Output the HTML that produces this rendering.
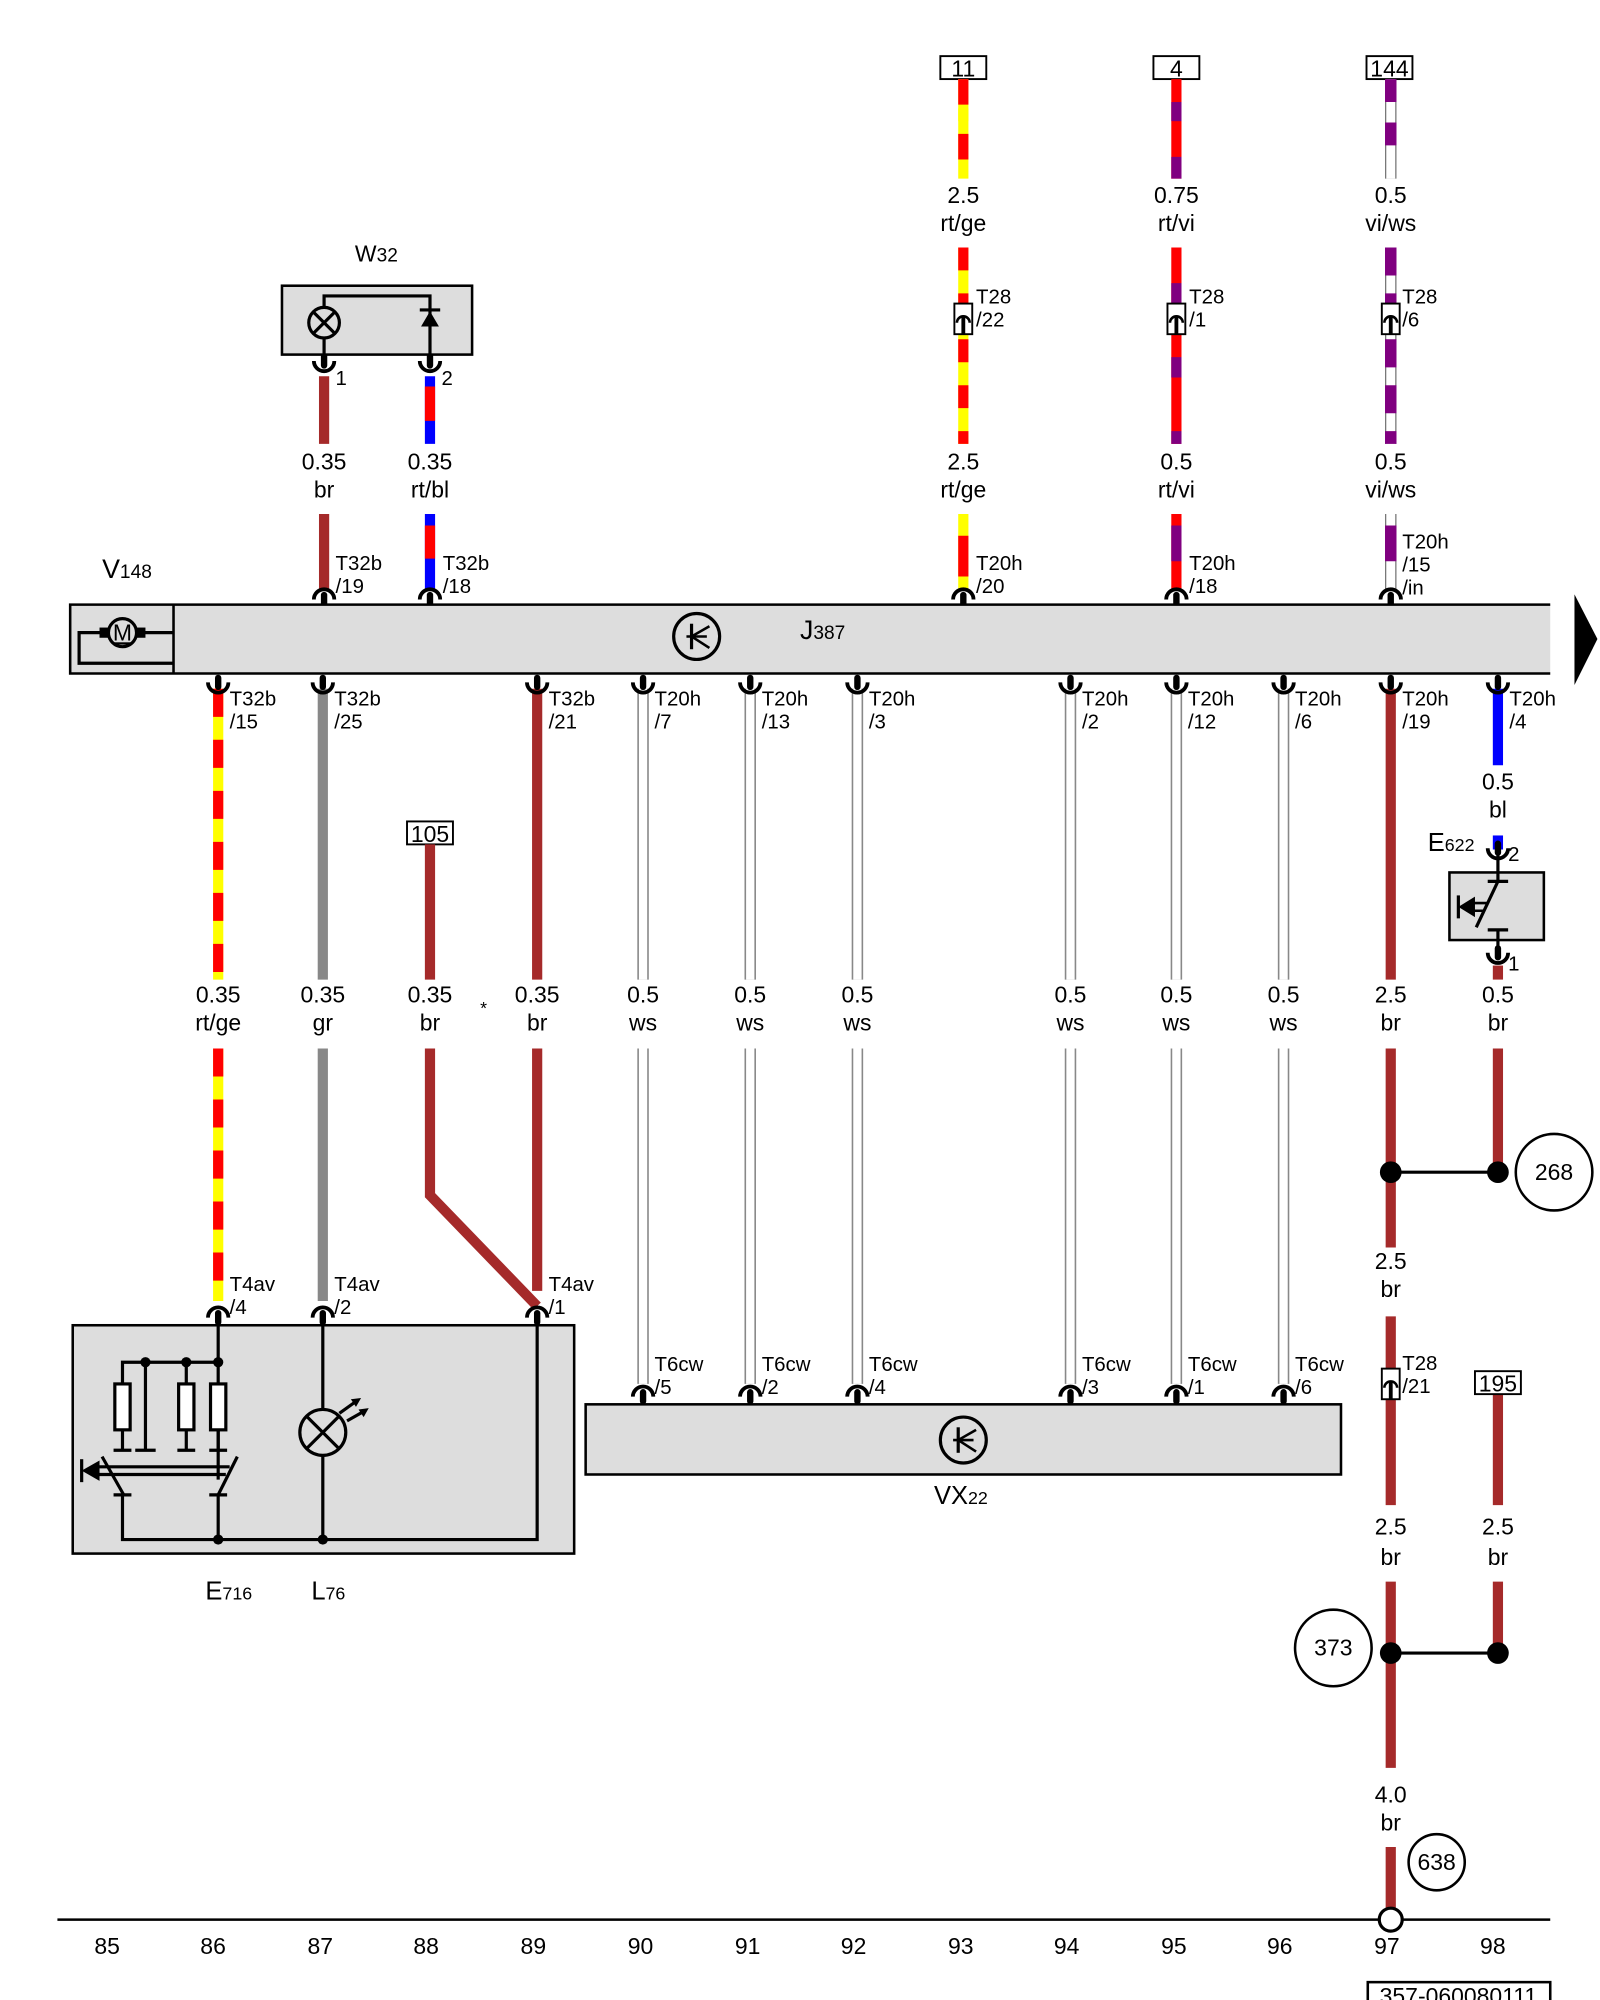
<!DOCTYPE html>
<html><head><meta charset="utf-8"><style>
html,body{margin:0;padding:0;background:#fff;}
svg{display:block;}
text{font-family:"Liberation Sans",sans-serif;fill:#000;}
.l{font-size:18px;text-anchor:middle;}
.c{font-size:16px;}
.n{font-size:18px;text-anchor:middle;}
</style></head><body>
<svg width="1600" height="2000" viewBox="0 0 1254 1568" preserveAspectRatio="none" xmlns="http://www.w3.org/2000/svg">
<defs>
<g id="cn"><path d="M-8,5 A8,8 0 0 1 8,5" fill="none" stroke="#000" stroke-width="3"/><rect x="-2.5" y="-1" width="5" height="12" rx="2.5" fill="#000"/></g>
<g id="cu"><path d="M-8,-5 A8,8 0 0 0 8,-5" fill="none" stroke="#000" stroke-width="3"/><rect x="-2.5" y="-11" width="5" height="12" rx="2.5" fill="#000"/></g>
<g id="t28"><rect x="-7" y="-12" width="14" height="24" fill="#fff" stroke="#000" stroke-width="1.5"/><path d="M-5,3 A5,5 0 0 1 5,3" fill="none" stroke="#000" stroke-width="2"/><rect x="-1.5" y="-2" width="3" height="14" fill="#000"/></g>
<g id="cir"><circle r="18" fill="none" stroke="#000" stroke-width="2.5"/><line x1="-8" y1="0" x2="8" y2="0" stroke="#000" stroke-width="2"/><line x1="-4" y1="-10" x2="-4" y2="10" stroke="#000" stroke-width="2.5"/><line x1="-4" y1="0" x2="10" y2="-8" stroke="#000" stroke-width="2"/><line x1="-4" y1="0" x2="10" y2="9" stroke="#000" stroke-width="2"/></g>
</defs>

<text x="295" y="205" class="l" font-size="21">W<tspan font-size="15">32</tspan></text>
<rect x="221" y="224" width="149" height="54" fill="#ddd" stroke="#000" stroke-width="2"/>
<polyline points="254,278 254,232 337,232 337,278" fill="none" stroke="#000" stroke-width="2.5"/>
<circle cx="254" cy="253" r="12" fill="#ddd" stroke="#000" stroke-width="2.5"/>
<line x1="246" y1="245" x2="262" y2="261" stroke="#000" stroke-width="2.5"/><line x1="262" y1="245" x2="246" y2="261" stroke="#000" stroke-width="2.5"/>
<polygon points="330,256 344,256 337,244" fill="#000"/><line x1="329" y1="243" x2="345" y2="243" stroke="#000" stroke-width="2.5"/>
<line x1="254" y1="295" x2="254" y2="348" stroke="#a52a2a" stroke-width="8"/>
<line x1="337" y1="295" x2="337" y2="348" stroke="#00f" stroke-width="8"/>
<line x1="337" y1="303" x2="337" y2="330" stroke="#f00" stroke-width="8"/>
<use href="#cu" x="254" y="288"/><use href="#cu" x="337" y="288"/>
<text x="263" y="302" class="c">1</text><text x="346" y="302" class="c">2</text>
<text x="254" y="368" class="l">0.35</text><text x="254" y="390" class="l">br</text>
<text x="337" y="368" class="l">0.35</text><text x="337" y="390" class="l">rt/bl</text>
<line x1="254" y1="403" x2="254" y2="462" stroke="#a52a2a" stroke-width="8"/>
<line x1="337" y1="403" x2="337" y2="462" stroke="#00f" stroke-width="8"/>
<line x1="337" y1="412" x2="337" y2="438" stroke="#f00" stroke-width="8"/>
<use href="#cn" x="254" y="465"/><use href="#cn" x="337" y="465"/>
<text x="263" y="447" class="c">T32b</text><text x="263" y="465" class="c">/19</text>
<text x="347" y="447" class="c">T32b</text><text x="347" y="465" class="c">/18</text>

<rect x="737" y="44" width="36" height="18" fill="#fff" stroke="#000" stroke-width="1.5"/><text x="755" y="60" class="n" font-size="16">11</text>
<line x1="755" y1="62" x2="755" y2="140" stroke="#ff0" stroke-width="8"/>
<line x1="755" y1="62" x2="755" y2="140" stroke="#f00" stroke-width="8" stroke-dasharray="20 23"/>
<line x1="755" y1="85" x2="755" y2="95" stroke="#ff0" stroke-width="8"/>
<text x="755" y="159" class="l">2.5</text><text x="755" y="181" class="l">rt/ge</text>
<line x1="755" y1="194" x2="755" y2="348" stroke="#ff0" stroke-width="8"/>
<line x1="755" y1="194" x2="755" y2="348" stroke="#f00" stroke-width="8" stroke-dasharray="18 18"/>
<use href="#t28" x="755" y="250"/>
<text x="765" y="238" class="c">T28</text><text x="765" y="256" class="c">/22</text>
<text x="755" y="368" class="l">2.5</text><text x="755" y="390" class="l">rt/ge</text>
<line x1="755" y1="403" x2="755" y2="462" stroke="#ff0" stroke-width="8"/>
<line x1="755" y1="420" x2="755" y2="452" stroke="#f00" stroke-width="8"/>
<use href="#cn" x="755" y="465"/>
<text x="765" y="447" class="c">T20h</text><text x="765" y="465" class="c">/20</text>

<rect x="904" y="44" width="36" height="18" fill="#fff" stroke="#000" stroke-width="1.5"/><text x="922" y="60" class="n" font-size="16">4</text>
<line x1="922" y1="62" x2="922" y2="140" stroke="#f00" stroke-width="8"/>
<line x1="922" y1="80" x2="922" y2="95" stroke="#800080" stroke-width="8"/>
<line x1="922" y1="123" x2="922" y2="140" stroke="#800080" stroke-width="8"/>
<text x="922" y="159" class="l">0.75</text><text x="922" y="181" class="l">rt/vi</text>
<line x1="922" y1="194" x2="922" y2="348" stroke="#f00" stroke-width="8"/>
<line x1="922" y1="194" x2="922" y2="348" stroke="#800080" stroke-width="8" stroke-dasharray="0 28 16 14"/>
<use href="#t28" x="922" y="250"/>
<text x="932" y="238" class="c">T28</text><text x="932" y="256" class="c">/1</text>
<text x="922" y="368" class="l">0.5</text><text x="922" y="390" class="l">rt/vi</text>
<line x1="922" y1="403" x2="922" y2="462" stroke="#f00" stroke-width="8"/>
<line x1="922" y1="412" x2="922" y2="440" stroke="#800080" stroke-width="8"/>
<use href="#cn" x="922" y="465"/>
<text x="932" y="447" class="c">T20h</text><text x="932" y="465" class="c">/18</text>

<rect x="1071" y="44" width="36" height="18" fill="#fff" stroke="#000" stroke-width="1.5"/><text x="1089" y="60" class="n" font-size="16">144</text>
<line x1="1090" y1="62" x2="1090" y2="140" stroke="#777" stroke-width="9"/>
<line x1="1090" y1="62" x2="1090" y2="140" stroke="#fff" stroke-width="7"/>
<line x1="1090" y1="62" x2="1090" y2="140" stroke="#800080" stroke-width="9" stroke-dasharray="18 16 18 100"/>
<text x="1090" y="159" class="l">0.5</text><text x="1090" y="181" class="l">vi/ws</text>
<line x1="1090" y1="194" x2="1090" y2="348" stroke="#777" stroke-width="9"/>
<line x1="1090" y1="194" x2="1090" y2="348" stroke="#fff" stroke-width="7"/>
<line x1="1090" y1="194" x2="1090" y2="348" stroke="#800080" stroke-width="9" stroke-dasharray="22 14"/>
<use href="#t28" x="1090" y="250"/>
<text x="1099" y="238" class="c">T28</text><text x="1099" y="256" class="c">/6</text>
<text x="1090" y="368" class="l">0.5</text><text x="1090" y="390" class="l">vi/ws</text>
<line x1="1090" y1="403" x2="1090" y2="462" stroke="#777" stroke-width="9"/>
<line x1="1090" y1="403" x2="1090" y2="462" stroke="#fff" stroke-width="7"/>
<line x1="1090" y1="412" x2="1090" y2="440" stroke="#800080" stroke-width="9"/>
<use href="#cn" x="1090" y="465"/>
<text x="1099" y="430" class="c">T20h</text><text x="1099" y="448" class="c">/15</text><text x="1099" y="466" class="c">/in</text>

<text x="80" y="453" font-size="21">V<tspan font-size="15">148</tspan></text>
<rect x="55" y="474" width="1160" height="54" fill="#ddd"/>
<polyline points="1215,474 55,474 55,528 1215,528" fill="none" stroke="#000" stroke-width="2"/>
<line x1="136" y1="474" x2="136" y2="528" stroke="#000" stroke-width="2"/>
<polyline points="82,496 62,496 62,520 136,520" fill="none" stroke="#000" stroke-width="2.5"/>
<line x1="110" y1="496" x2="136" y2="496" stroke="#000" stroke-width="2.5"/>
<rect x="78" y="492" width="8" height="8" fill="#000"/><rect x="106" y="492" width="8" height="8" fill="#000"/>
<circle cx="96" cy="496" r="11" fill="#ddd" stroke="#000" stroke-width="2.5"/>
<text x="96" y="502" class="n" font-size="14" text-decoration="underline">M</text>
<use href="#cir" x="546" y="499"/>
<text x="627" y="501" font-size="21">J<tspan font-size="15">387</tspan></text>
<polygon points="1234,466 1252,501 1234,537" fill="#000"/>

<line x1="171" y1="540" x2="171" y2="768" stroke="#ff0" stroke-width="8"/>
<line x1="171" y1="540" x2="171" y2="768" stroke="#f00" stroke-width="8" stroke-dasharray="22 18"/>
<line x1="171" y1="822" x2="171" y2="1020" stroke="#ff0" stroke-width="8"/>
<line x1="171" y1="822" x2="171" y2="1020" stroke="#f00" stroke-width="8" stroke-dasharray="22 18"/>
<line x1="253" y1="540" x2="253" y2="768" stroke="#888" stroke-width="8"/>
<line x1="253" y1="822" x2="253" y2="1020" stroke="#888" stroke-width="8"/>
<rect x="319" y="644" width="36" height="18" fill="#fff" stroke="#000" stroke-width="1.5"/><text x="337" y="660" class="n" font-size="16">105</text>
<line x1="337" y1="662" x2="337" y2="768" stroke="#a52a2a" stroke-width="8"/>
<polyline points="337,822 337,937 421,1024" fill="none" stroke="#a52a2a" stroke-width="8"/>
<line x1="421" y1="540" x2="421" y2="768" stroke="#a52a2a" stroke-width="8"/>
<line x1="421" y1="822" x2="421" y2="1012" stroke="#a52a2a" stroke-width="8"/>
<text x="379" y="795" font-size="14" text-anchor="middle">*</text>
<g stroke="#888" stroke-width="9">
<line x1="504" y1="540" x2="504" y2="768"/><line x1="504" y1="822" x2="504" y2="1085"/>
<line x1="588" y1="540" x2="588" y2="768"/><line x1="588" y1="822" x2="588" y2="1085"/>
<line x1="672" y1="540" x2="672" y2="768"/><line x1="672" y1="822" x2="672" y2="1085"/>
<line x1="839" y1="540" x2="839" y2="768"/><line x1="839" y1="822" x2="839" y2="1085"/>
<line x1="922" y1="540" x2="922" y2="768"/><line x1="922" y1="822" x2="922" y2="1085"/>
<line x1="1006" y1="540" x2="1006" y2="768"/><line x1="1006" y1="822" x2="1006" y2="1085"/>
</g>
<g stroke="#fff" stroke-width="6.5">
<line x1="504" y1="540" x2="504" y2="768"/><line x1="504" y1="822" x2="504" y2="1085"/>
<line x1="588" y1="540" x2="588" y2="768"/><line x1="588" y1="822" x2="588" y2="1085"/>
<line x1="672" y1="540" x2="672" y2="768"/><line x1="672" y1="822" x2="672" y2="1085"/>
<line x1="839" y1="540" x2="839" y2="768"/><line x1="839" y1="822" x2="839" y2="1085"/>
<line x1="922" y1="540" x2="922" y2="768"/><line x1="922" y1="822" x2="922" y2="1085"/>
<line x1="1006" y1="540" x2="1006" y2="768"/><line x1="1006" y1="822" x2="1006" y2="1085"/>
</g>
<line x1="1090" y1="540" x2="1090" y2="768" stroke="#a52a2a" stroke-width="8"/>
<line x1="1090" y1="822" x2="1090" y2="978" stroke="#a52a2a" stroke-width="8"/>
<line x1="1090" y1="1032" x2="1090" y2="1180" stroke="#a52a2a" stroke-width="8"/>
<line x1="1090" y1="1240" x2="1090" y2="1386" stroke="#a52a2a" stroke-width="8"/>
<line x1="1090" y1="1448" x2="1090" y2="1497" stroke="#a52a2a" stroke-width="8"/>
<line x1="1174" y1="540" x2="1174" y2="600" stroke="#00f" stroke-width="8"/>
<line x1="1174" y1="655" x2="1174" y2="666" stroke="#00f" stroke-width="8"/>
<line x1="1174" y1="757" x2="1174" y2="768" stroke="#a52a2a" stroke-width="8"/>
<line x1="1174" y1="822" x2="1174" y2="919" stroke="#a52a2a" stroke-width="8"/>
<line x1="1174" y1="1093" x2="1174" y2="1180" stroke="#a52a2a" stroke-width="8"/>
<line x1="1174" y1="1240" x2="1174" y2="1296" stroke="#a52a2a" stroke-width="8"/>

<g>
<use href="#cu" x="171" y="540"/><use href="#cu" x="253" y="540"/><use href="#cu" x="421" y="540"/>
<use href="#cu" x="504" y="540"/><use href="#cu" x="588" y="540"/><use href="#cu" x="672" y="540"/>
<use href="#cu" x="839" y="540"/><use href="#cu" x="922" y="540"/><use href="#cu" x="1006" y="540"/>
<use href="#cu" x="1090" y="540"/><use href="#cu" x="1174" y="540"/>
</g>
<g>
<text x="180" y="553" class="c">T32b</text><text x="180" y="571" class="c">/15</text>
<text x="262" y="553" class="c">T32b</text><text x="262" y="571" class="c">/25</text>
<text x="430" y="553" class="c">T32b</text><text x="430" y="571" class="c">/21</text>
<text x="513" y="553" class="c">T20h</text><text x="513" y="571" class="c">/7</text>
<text x="597" y="553" class="c">T20h</text><text x="597" y="571" class="c">/13</text>
<text x="681" y="553" class="c">T20h</text><text x="681" y="571" class="c">/3</text>
<text x="848" y="553" class="c">T20h</text><text x="848" y="571" class="c">/2</text>
<text x="931" y="553" class="c">T20h</text><text x="931" y="571" class="c">/12</text>
<text x="1015" y="553" class="c">T20h</text><text x="1015" y="571" class="c">/6</text>
<text x="1099" y="553" class="c">T20h</text><text x="1099" y="571" class="c">/19</text>
<text x="1183" y="553" class="c">T20h</text><text x="1183" y="571" class="c">/4</text>
</g>

<text x="171" y="786" class="l">0.35</text><text x="171" y="808" class="l">rt/ge</text>
<text x="253" y="786" class="l">0.35</text><text x="253" y="808" class="l">gr</text>
<text x="337" y="786" class="l">0.35</text><text x="337" y="808" class="l">br</text>
<text x="421" y="786" class="l">0.35</text><text x="421" y="808" class="l">br</text>
<text x="504" y="786" class="l">0.5</text><text x="504" y="808" class="l">ws</text>
<text x="588" y="786" class="l">0.5</text><text x="588" y="808" class="l">ws</text>
<text x="672" y="786" class="l">0.5</text><text x="672" y="808" class="l">ws</text>
<text x="839" y="786" class="l">0.5</text><text x="839" y="808" class="l">ws</text>
<text x="922" y="786" class="l">0.5</text><text x="922" y="808" class="l">ws</text>
<text x="1006" y="786" class="l">0.5</text><text x="1006" y="808" class="l">ws</text>
<text x="1090" y="786" class="l">2.5</text><text x="1090" y="808" class="l">br</text>
<text x="1174" y="786" class="l">0.5</text><text x="1174" y="808" class="l">br</text>
<text x="1174" y="619" class="l">0.5</text><text x="1174" y="641" class="l">bl</text>

<text x="1119" y="667" font-size="20">E<tspan font-size="14">622</tspan></text>
<rect x="1136" y="684" width="74" height="53" fill="#ddd" stroke="#000" stroke-width="2"/>
<use href="#cu" x="1174" y="670"/><use href="#cu" x="1174" y="752"/>
<text x="1182" y="675" class="c">2</text><text x="1182" y="761" class="c">1</text>
<line x1="1174" y1="670" x2="1174" y2="690" stroke="#000" stroke-width="2.5"/>
<line x1="1166" y1="691" x2="1182" y2="691" stroke="#000" stroke-width="2.5"/>
<line x1="1174" y1="691" x2="1157" y2="727" stroke="#000" stroke-width="2.5"/>
<line x1="1166" y1="729" x2="1182" y2="729" stroke="#000" stroke-width="2.5"/>
<line x1="1174" y1="729" x2="1174" y2="752" stroke="#000" stroke-width="2.5"/>
<polygon points="1143,711 1156,703 1156,719" fill="#000"/><line x1="1143" y1="702" x2="1143" y2="720" stroke="#000" stroke-width="2.5"/>
<line x1="1150" y1="708" x2="1166" y2="708" stroke="#000" stroke-width="2"/><line x1="1150" y1="714" x2="1163" y2="714" stroke="#000" stroke-width="2"/>

<line x1="1090" y1="919" x2="1174" y2="919" stroke="#000" stroke-width="2.5"/>
<circle cx="1090" cy="919" r="8.5" fill="#000"/><circle cx="1174" cy="919" r="8.5" fill="#000"/>
<circle cx="1218" cy="919" r="30" fill="#fff" stroke="#000" stroke-width="2"/><text x="1218" y="925" class="n" font-size="17">268</text>
<text x="1090" y="995" class="l">2.5</text><text x="1090" y="1017" class="l">br</text>
<use href="#t28" x="1090" y="1085"/>
<text x="1099" y="1074" class="c">T28</text><text x="1099" y="1092" class="c">/21</text>
<rect x="1156" y="1075" width="36" height="18" fill="#fff" stroke="#000" stroke-width="1.5"/><text x="1174" y="1091" class="n" font-size="16">195</text>
<text x="1090" y="1203" class="l">2.5</text><text x="1090" y="1227" class="l">br</text>
<text x="1174" y="1203" class="l">2.5</text><text x="1174" y="1227" class="l">br</text>
<line x1="1090" y1="1296" x2="1174" y2="1296" stroke="#000" stroke-width="2.5"/>
<circle cx="1090" cy="1296" r="8.5" fill="#000"/><circle cx="1174" cy="1296" r="8.5" fill="#000"/>
<circle cx="1045" cy="1292" r="30" fill="#fff" stroke="#000" stroke-width="2"/><text x="1045" y="1298" class="n" font-size="17">373</text>
<text x="1090" y="1413" class="l">4.0</text><text x="1090" y="1435" class="l">br</text>
<circle cx="1126" cy="1460" r="22" fill="#fff" stroke="#000" stroke-width="2"/><text x="1126" y="1466" class="n" font-size="17">638</text>

<rect x="57" y="1039" width="393" height="179" fill="#ddd" stroke="#000" stroke-width="2"/>
<use href="#cn" x="171" y="1028"/><use href="#cn" x="253" y="1028"/><use href="#cn" x="421" y="1028"/>
<text x="180" y="1012" class="c">T4av</text><text x="180" y="1030" class="c">/4</text>
<text x="262" y="1012" class="c">T4av</text><text x="262" y="1030" class="c">/2</text>
<text x="430" y="1012" class="c">T4av</text><text x="430" y="1030" class="c">/1</text>
<g stroke="#000" stroke-width="2.5" fill="none">
<line x1="171" y1="1039" x2="171" y2="1160"/>
<polyline points="96,1085 96,1068 171,1068"/>
<line x1="114" y1="1068" x2="114" y2="1137"/>
<line x1="146" y1="1068" x2="146" y2="1085"/>
<rect x="90" y="1085" width="12" height="36" fill="#fff"/>
<rect x="140" y="1085" width="12" height="36" fill="#fff"/>
<rect x="165" y="1085" width="12" height="36" fill="#fff"/>
<line x1="96" y1="1121" x2="96" y2="1137"/><line x1="146" y1="1121" x2="146" y2="1137"/><line x1="171" y1="1121" x2="171" y2="1137"/>
<line x1="89" y1="1137" x2="103" y2="1137"/><line x1="106" y1="1137" x2="122" y2="1137"/><line x1="139" y1="1137" x2="153" y2="1137"/><line x1="164" y1="1137" x2="178" y2="1137"/>
<line x1="80" y1="1142" x2="97" y2="1172"/><line x1="186" y1="1142" x2="171" y2="1172"/>
<line x1="75" y1="1150" x2="180" y2="1150"/><line x1="75" y1="1156" x2="177" y2="1156"/>
<line x1="89" y1="1172" x2="103" y2="1172"/><line x1="164" y1="1172" x2="178" y2="1172"/>
<polyline points="96,1172 96,1207 421,1207 421,1039"/>
<line x1="171" y1="1172" x2="171" y2="1207"/>
<line x1="253" y1="1039" x2="253" y2="1105"/><line x1="253" y1="1141" x2="253" y2="1207"/>
<circle cx="253" cy="1123" r="18"/>
<line x1="240" y1="1110" x2="266" y2="1136"/><line x1="266" y1="1110" x2="240" y2="1136"/>
<line x1="266" y1="1108" x2="280" y2="1098"/><line x1="272" y1="1114" x2="286" y2="1106"/>
</g>
<polygon points="283,1096 275,1097 279,1103" fill="#000"/><polygon points="289,1104 281,1105 285,1111" fill="#000"/>
<polygon points="64,1153 78,1145 78,1161" fill="#000"/><line x1="64" y1="1144" x2="64" y2="1162" stroke="#000" stroke-width="2.5"/>
<circle cx="171" cy="1068" r="4" fill="#000"/><circle cx="146" cy="1068" r="4" fill="#000"/><circle cx="114" cy="1068" r="4" fill="#000"/>
<circle cx="171" cy="1207" r="4" fill="#000"/><circle cx="253" cy="1207" r="4" fill="#000"/>
<text x="161" y="1254" font-size="20">E<tspan font-size="14">716</tspan></text>
<text x="244" y="1254" font-size="20">L<tspan font-size="14">76</tspan></text>

<rect x="459" y="1101" width="592" height="55" fill="#ddd" stroke="#000" stroke-width="2"/>
<use href="#cn" x="504" y="1090"/><use href="#cn" x="588" y="1090"/><use href="#cn" x="672" y="1090"/>
<use href="#cn" x="839" y="1090"/><use href="#cn" x="922" y="1090"/><use href="#cn" x="1006" y="1090"/>
<text x="513" y="1075" class="c">T6cw</text><text x="513" y="1093" class="c">/5</text>
<text x="597" y="1075" class="c">T6cw</text><text x="597" y="1093" class="c">/2</text>
<text x="681" y="1075" class="c">T6cw</text><text x="681" y="1093" class="c">/4</text>
<text x="848" y="1075" class="c">T6cw</text><text x="848" y="1093" class="c">/3</text>
<text x="931" y="1075" class="c">T6cw</text><text x="931" y="1093" class="c">/1</text>
<text x="1015" y="1075" class="c">T6cw</text><text x="1015" y="1093" class="c">/6</text>
<use href="#cir" x="755" y="1129"/>
<text x="732" y="1179" font-size="20">VX<tspan font-size="14">22</tspan></text>

<line x1="45" y1="1505" x2="1215" y2="1505" stroke="#000" stroke-width="2"/>
<circle cx="1090" cy="1505" r="9" fill="#fff" stroke="#000" stroke-width="2.5"/>
<g>
<text x="84" y="1532" class="n">85</text><text x="167" y="1532" class="n">86</text><text x="251" y="1532" class="n">87</text>
<text x="334" y="1532" class="n">88</text><text x="418" y="1532" class="n">89</text><text x="502" y="1532" class="n">90</text>
<text x="586" y="1532" class="n">91</text><text x="669" y="1532" class="n">92</text><text x="753" y="1532" class="n">93</text>
<text x="836" y="1532" class="n">94</text><text x="920" y="1532" class="n">95</text><text x="1003" y="1532" class="n">96</text>
<text x="1087" y="1532" class="n">97</text><text x="1170" y="1532" class="n">98</text>
</g>
<rect x="1072" y="1554" width="143" height="20" fill="#fff" stroke="#000" stroke-width="2"/>
<text x="1143" y="1571" class="n" font-size="16">357-060080111</text>
</svg>
</body></html>
